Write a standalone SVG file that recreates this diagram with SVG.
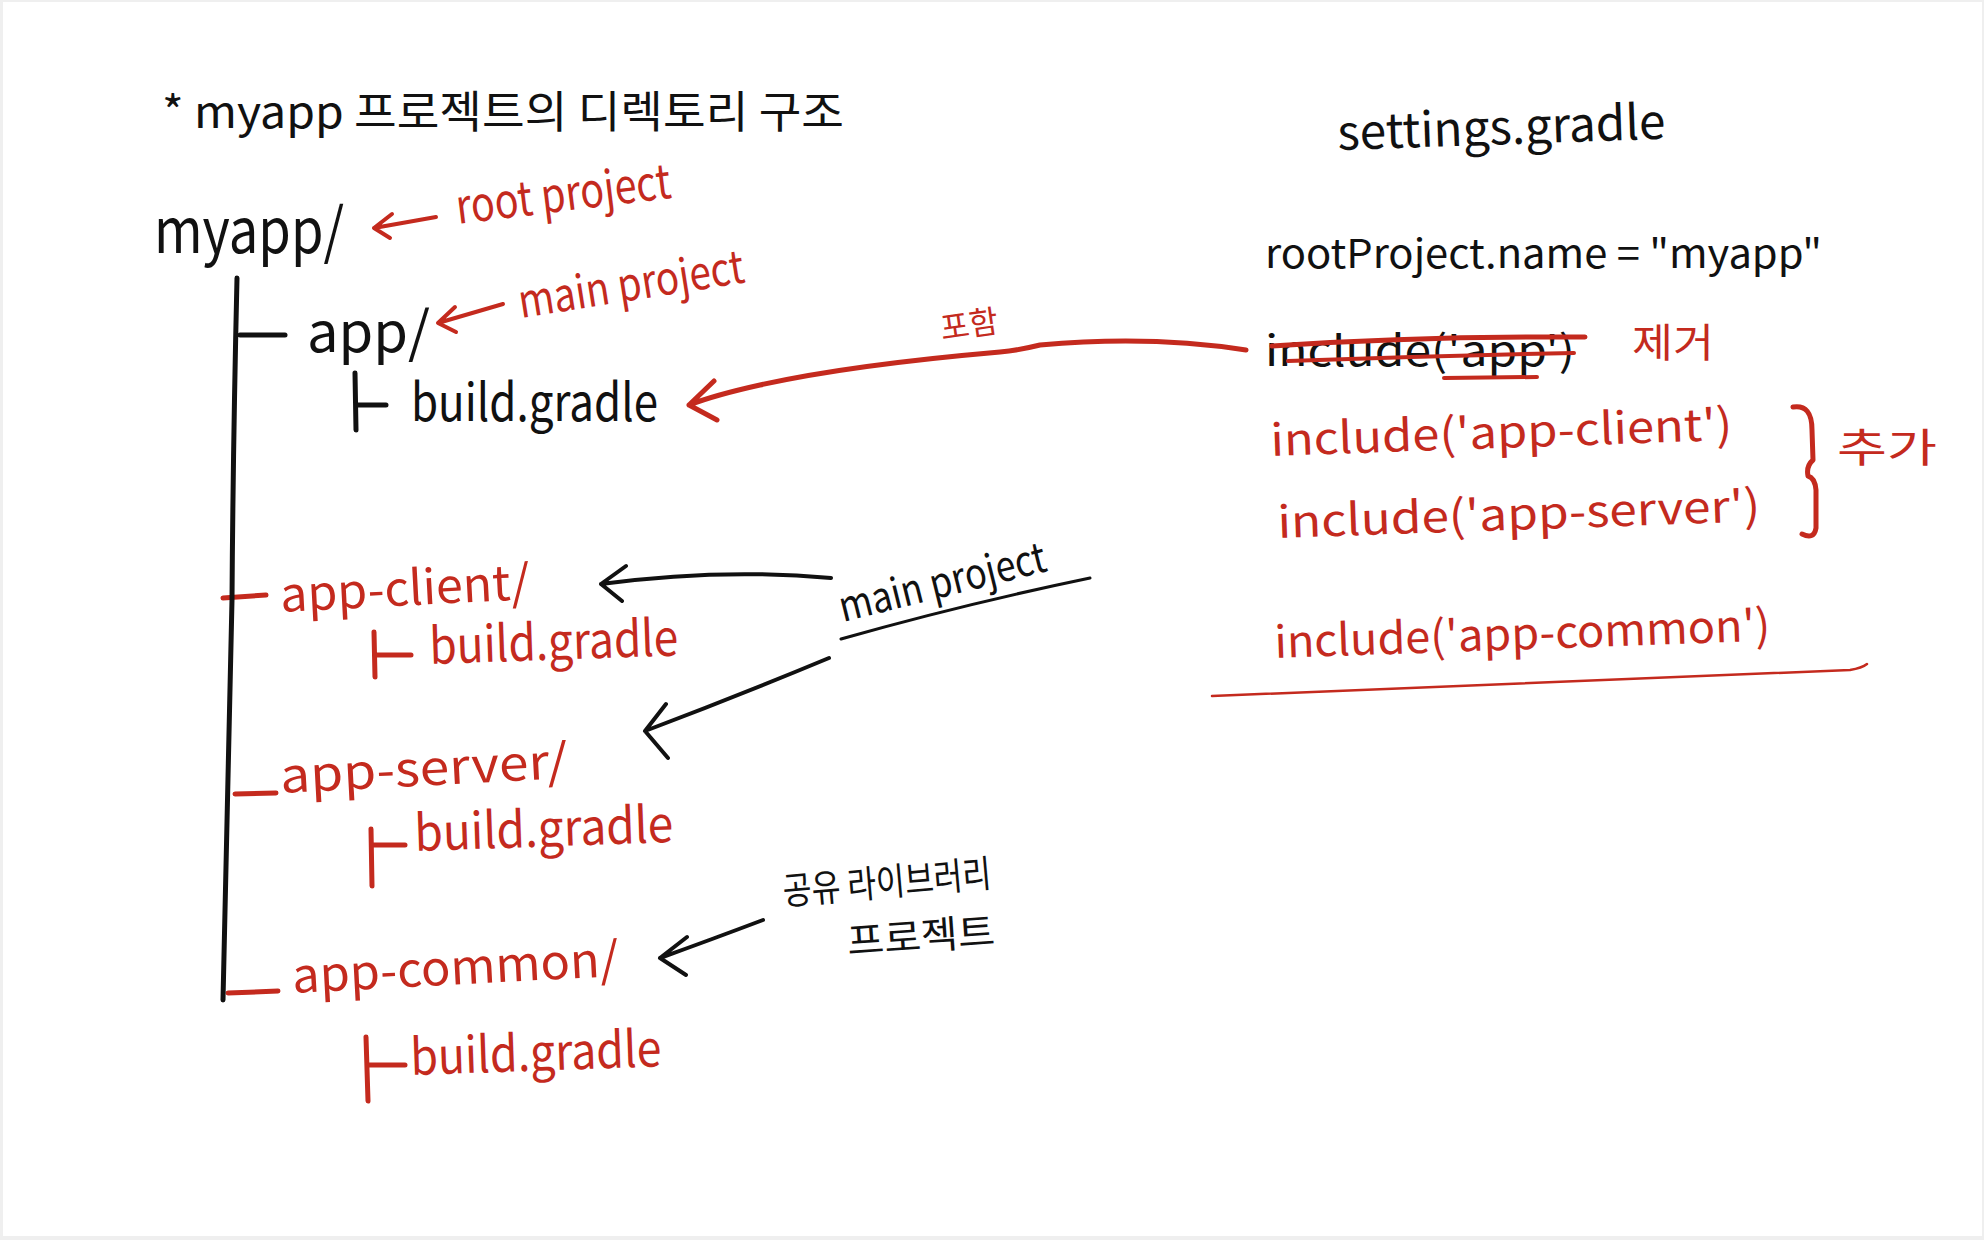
<svg xmlns="http://www.w3.org/2000/svg" width="1984" height="1240" viewBox="0 0 1984 1240">
<style>
.t{font-family:"Noto Sans CJK KR","Noto Sans",sans-serif;}
.k{fill:#111111;}
.r{fill:#c42a1e;}
.lk{stroke:#111111;fill:none;stroke-linecap:round;stroke-linejoin:round;}
.lr{stroke:#c42a1e;fill:none;stroke-linecap:round;stroke-linejoin:round;}
</style>
<rect x="0" y="0" width="1984" height="1240" fill="#efefef"/>
<rect x="3" y="2" width="1979" height="1234" fill="#ffffff"/>

<g id="title">
<text class="t k" x="162" y="128" font-size="44" textLength="682" lengthAdjust="spacingAndGlyphs">*  myapp 프로젝트의 디렉토리 구조</text>
</g>

<g id="root">
<text class="t k" x="154" y="253" font-size="62" textLength="190" lengthAdjust="spacingAndGlyphs">myapp/</text>
<text class="t r" x="458" y="224" font-size="48" textLength="216" lengthAdjust="spacingAndGlyphs" transform="rotate(-7 458 224)">root project</text>
</g>

<g id="app">
<text class="t k" x="307" y="352" font-size="56" textLength="123" lengthAdjust="spacingAndGlyphs">app/</text>
<text class="t r" x="521" y="318" font-size="46" textLength="228" lengthAdjust="spacingAndGlyphs" transform="rotate(-9 521 318)">main project</text>
</g>

<g id="app-build">
<path class="lk" stroke-width="5" d="M355 373 L356 430 M356 405 L386 405"/>
<text class="t k" x="411" y="421" font-size="52" textLength="247" lengthAdjust="spacingAndGlyphs">build.gradle</text>
</g>

<g id="app-client">
<path class="lr" stroke-width="5" d="M223 598 L266 595"/>
<text class="t r" x="281" y="612" font-size="48" textLength="250" lengthAdjust="spacingAndGlyphs" transform="rotate(-3 281 612)">app-client/</text>
<path class="lr" stroke-width="5" d="M374 632 L375 677 M375 655 L411 655"/>
<text class="t r" x="430" y="664" font-size="50" textLength="249" lengthAdjust="spacingAndGlyphs" transform="rotate(-2 430 664)">build.gradle</text>
</g>

<g id="app-server">
<path class="lr" stroke-width="5" d="M235 794 L276 793"/>
<text class="t r" x="281" y="793" font-size="48" textLength="288" lengthAdjust="spacingAndGlyphs" transform="rotate(-3 281 793)">app-server/</text>
<path class="lr" stroke-width="5" d="M371 829 L372 886 M372 845 L405 845"/>
<text class="t r" x="415" y="851" font-size="50" textLength="259" lengthAdjust="spacingAndGlyphs" transform="rotate(-2 415 851)">build.gradle</text>
</g>

<g id="app-common">
<path class="lr" stroke-width="5" d="M228 993 L278 991"/>
<text class="t r" x="293" y="993" font-size="48" textLength="327" lengthAdjust="spacingAndGlyphs" transform="rotate(-3 293 993)">app-common/</text>
<path class="lr" stroke-width="5" d="M366 1037 L368 1101 M367 1065 L405 1065"/>
<text class="t r" x="411" y="1075" font-size="50" textLength="251" lengthAdjust="spacingAndGlyphs" transform="rotate(-2 411 1075)">build.gradle</text>
</g>

<g id="main-project-note">
<text class="t k" x="843" y="622" font-size="42" textLength="212" lengthAdjust="spacingAndGlyphs" transform="rotate(-14 843 622)">main project</text>
<path class="lk" stroke-width="3" d="M841 639 Q960 605 1090 578"/>
</g>

<g id="shared-lib-note">
<text class="t k" x="784" y="905" font-size="38" textLength="209" lengthAdjust="spacingAndGlyphs" transform="rotate(-5 784 905)">공유 라이브러리</text>
<text class="t k" x="848" y="955" font-size="38" textLength="148" lengthAdjust="spacingAndGlyphs" transform="rotate(-4 848 955)">프로젝트</text>
</g>

<g id="settings">
<text class="t k" x="1338" y="150" font-size="48" textLength="328" lengthAdjust="spacingAndGlyphs" transform="rotate(-2 1338 150)">settings.gradle</text>
<text class="t k" x="1265" y="268" font-size="40" textLength="557" lengthAdjust="spacingAndGlyphs">rootProject.name = "myapp"</text>
<text class="t k" x="1265" y="366" font-size="42" textLength="310" lengthAdjust="spacingAndGlyphs">include('app')</text>
<path class="lr" stroke-width="5" d="M1272 346 Q1420 336 1585 337"/>
<path class="lr" stroke-width="4" d="M1288 361 Q1430 356 1574 353"/>
<path class="lr" stroke-width="4" d="M1444 378 L1537 377"/>
<text class="t r" x="1632" y="357" font-size="40" textLength="82" lengthAdjust="spacingAndGlyphs">제거</text>
<text class="t r" x="1271" y="456" font-size="44" textLength="462" lengthAdjust="spacingAndGlyphs" transform="rotate(-2 1271 456)">include('app-client')</text>
<text class="t r" x="1278" y="538" font-size="44" textLength="483" lengthAdjust="spacingAndGlyphs" transform="rotate(-2 1278 538)">include('app-server')</text>
<path class="lr" stroke-width="5" d="M1793 407 Q1812 404 1812 430 L1813 460 Q1806 466 1808 476 Q1815 478 1816 490 L1816 528 Q1814 540 1802 534"/>
<text class="t r" x="1837" y="462" font-size="40" textLength="100" lengthAdjust="spacingAndGlyphs">추가</text>
<text class="t r" x="1275" y="658" font-size="44" textLength="496" lengthAdjust="spacingAndGlyphs" transform="rotate(-2 1275 658)">include('app-common')</text>
<path class="lr" stroke-width="2.5" d="M1212 696 Q1540 684 1850 670 Q1862 668 1867 664"/>
</g>

<g id="connectors">
<path class="lk" stroke-width="5" d="M237 278 Q233 450 232 600 Q228 800 223 1000"/>
<path class="lk" stroke-width="5" d="M240 335 L285 335"/>
<path class="lr" stroke-width="4" d="M436 217 L374 228 M374 228 L392 214 M374 228 L390 238"/>
<path class="lr" stroke-width="4" d="M503 304 L438 323 M438 323 L455 307 M438 323 L456 332"/>
<path class="lr" stroke-width="5" d="M1246 350 Q1150 335 1040 345 Q1020 350 1000 352 Q850 365 760 385 Q715 395 689 405 M689 405 L714 381 M689 405 L717 420"/>
<text class="t r" x="942" y="340" font-size="32" textLength="58" lengthAdjust="spacingAndGlyphs" transform="rotate(-8 942 340)">포함</text>
<path class="lk" stroke-width="4" d="M831 578 Q720 568 601 584 M601 584 L626 566 M601 584 L622 601"/>
<path class="lk" stroke-width="4" d="M829 658 Q740 695 645 731 M645 731 L666 704 M645 731 L668 758"/>
<path class="lk" stroke-width="4" d="M763 920 Q710 940 660 958 M660 958 L687 937 M660 958 L686 975"/>
</g>
</svg>
